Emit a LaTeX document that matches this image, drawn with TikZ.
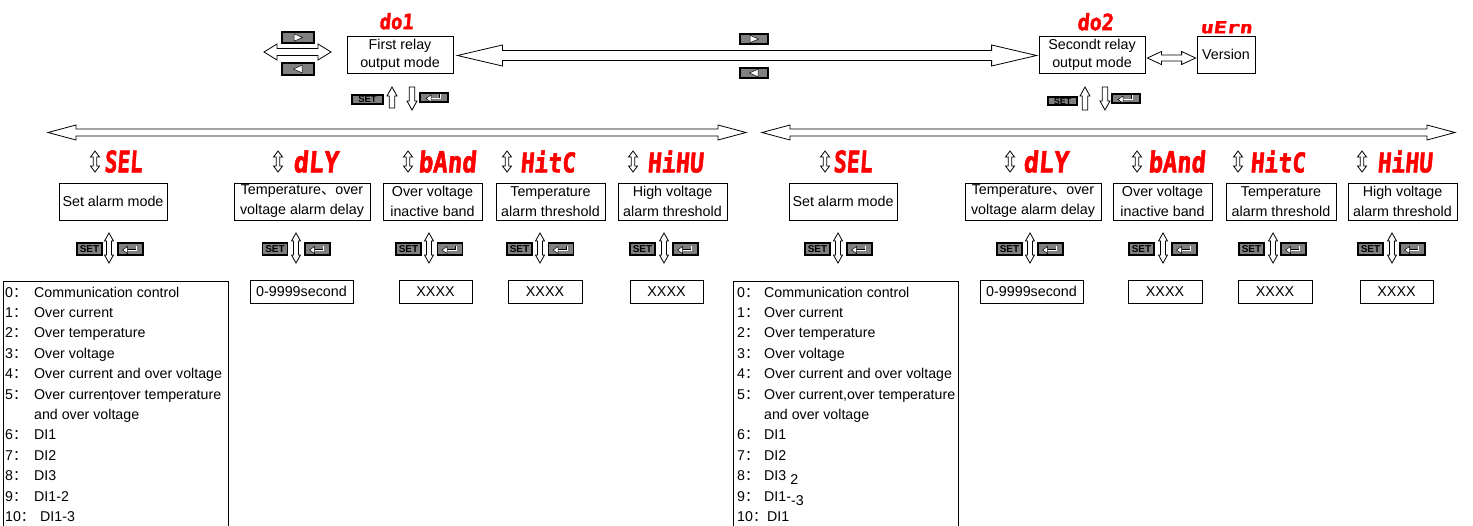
\documentclass[tikz,border=0pt]{standalone}
\usepackage{graphicx}
\usepackage{fontspec}
\setmainfont{Liberation Sans}
\newfontfamily\cjk{Noto Sans CJK SC}
\newfontfamily\segf{DejaVu Sans Mono}[FakeSlant=0.1, FakeBold=2]
\usetikzlibrary{calc}
\definecolor{btngray}{HTML}{808080}
\definecolor{segred}{HTML}{FF0000}
\tikzset{
 blk/.style={draw=black, fill=white, line width=0.8pt, line join=miter},
 txtbox/.style={draw=black, line width=0.8pt, inner sep=0pt, align=center, font=\fontsize{14.3}{20}\selectfont},
 topbox/.style={txtbox, font=\fontsize{14.3}{18}\selectfont},
 valbox/.style={draw=black, line width=0.8pt, inner sep=0pt, minimum height=23, font=\fontsize{14.3}{17}\selectfont},
 btn/.style={draw=black, fill=btngray, line width=1.1pt, inner sep=0pt},
 setbtn/.style={btn, minimum width=25, minimum height=12, font=\fontsize{10}{10}\selectfont\bfseries},
 seglab/.style={text=segred, inner sep=0pt},
 lst/.style={anchor=base west, inner sep=0pt, font=\fontsize{14.2}{17}\selectfont},
 symb/.style={draw=black, line width=0.5pt, fill=white, line join=miter},
}
% horizontal double block arrow: left tip, right tip, head length, head half width, shaft half width
\newcommand\hblk[5]{%
 \draw[blk] (#1) -- ($(#1)+(#3,-#4)$) -- ($(#1)+(#3,-#5)$) -- ($(#2)+(-#3,-#5)$) -- ($(#2)+(-#3,-#4)$) -- (#2)
   -- ($(#2)+(-#3,#4)$) -- ($(#2)+(-#3,#5)$) -- ($(#1)+(#3,#5)$) -- ($(#1)+(#3,#4)$) -- cycle;}
% vertical double block arrow: top tip, bottom tip, head length, head half width, shaft half width
\newcommand\vblk[5]{%
 \draw[blk] (#1) -- ($(#1)+(#4,#3)$) -- ($(#1)+(#5,#3)$) -- ($(#2)+(#5,-#3)$) -- ($(#2)+(#4,-#3)$) -- (#2)
   -- ($(#2)+(-#4,-#3)$) -- ($(#2)+(-#5,-#3)$) -- ($(#1)+(-#5,#3)$) -- ($(#1)+(-#4,#3)$) -- cycle;}
% up block arrow: tip (top), tail (bottom)
\newcommand\upblk[5]{%
 \draw[blk] (#1) -- ($(#1)+(#4,#3)$) -- ($(#1)+(#5,#3)$) -- ($(#2)+(#5,0)$) -- ($(#2)+(-#5,0)$)
   -- ($(#1)+(-#5,#3)$) -- ($(#1)+(-#4,#3)$) -- cycle;}
% down block arrow: tail (top), tip (bottom)
\newcommand\dnblk[5]{%
 \draw[blk] ($(#1)+(-#5,0)$) -- ($(#1)+(#5,0)$) -- ($(#2)+(#5,-#3)$) -- ($(#2)+(#4,-#3)$) -- (#2)
   -- ($(#2)+(-#4,-#3)$) -- ($(#2)+(-#5,-#3)$) -- cycle;}
% enter button: name, cx, cy, w, h
\newcommand\enterbtn[5]{%
 \node[btn, minimum width=#4, minimum height=#5] (#1) at (#2,#3) {};
 \draw[draw=black, line width=0.35pt, double=white, double distance=1pt]
   ($(#1.center)+(-3,1)$) -- ($(#1.center)+(6,1)$) -- ($(#1.center)+(6,-3.5)$);
 \draw[symb] ($(#1.center)+(-8,1)$) -- ($(#1.center)+(-3,-2.5)$) -- ($(#1.center)+(-3,4.5)$) -- cycle;}
% play button: name, cx, cy, w, h, tip dx, back dx
\newcommand\playbtn[7]{%
 \node[btn, minimum width=#4, minimum height=#5] (#1) at (#2,#3) {};
 \draw[symb] ($(#1.center)+(#6,0)$) -- ($(#1.center)+(#7,-3.8)$) -- ($(#1.center)+(#7,3.8)$) -- cycle;}
\begin{document}
\begin{tikzpicture}[x=1pt,y=-1pt]
\useasboundingbox (0,0) rectangle (1473,525);
\fill[white] (0,0) rectangle (1473,525);

% ---------- top row ----------
\playbtn{pr1}{298}{37.5}{32}{11}{4.5}{-4}
\playbtn{pl1}{298}{69}{32}{12}{-4.5}{4}
\coordinate (a1l) at (264,52);
\coordinate (a1r) at (331,52);
\hblk{a1l}{a1r}{13}{8}{3.5}

\node[seglab, anchor=north west] (do1) at (379,13) {\resizebox{34pt}{16pt}{\segf\bfseries do1}};
\node[topbox, minimum width=106, minimum height=37] (box1) at (400,54.5) {First relay\\output mode};
\node[topbox, minimum width=106, minimum height=37] (box2) at (1092,54.5) {Secondt relay\\output mode};
\node[seglab, anchor=north west] (do2) at (1077,13) {\resizebox{36pt}{17pt}{\segf\bfseries do2}};
\node[topbox, minimum width=58, minimum height=37] (ver) at (1226,54.5) {Version};
\node[seglab, anchor=north west] (uern) at (1200,21) {\resizebox{52pt}{12pt}{\segf\bfseries uErn}};

\coordinate (a2l) at ($(box1.east)+(4,1)$);
\coordinate (a2r) at ($(box2.west)+(-2,1)$);
\hblk{a2l}{a2r}{45}{10.5}{5}
\playbtn{pr2}{754}{39}{28}{10}{4.5}{-4}
\playbtn{pl2}{754}{73}{28}{10}{-4.5}{4}

\coordinate (a3l) at ($(box2.east)+(2,3.5)$);
\coordinate (a3r) at ($(ver.west)+(-1,3.5)$);
\hblk{a3l}{a3r}{14}{6.5}{3}

\node[setbtn, minimum width=31, minimum height=9, font=\fontsize{9.5}{9}\selectfont\bfseries] (tset1) at (367.5,99.5) {SET};
\coordinate (tu1a) at (392,87); \coordinate (tu1b) at (392,108);
\upblk{tu1a}{tu1b}{9}{5}{2.8}
\coordinate (td1a) at (412,87); \coordinate (td1b) at (412,110);
\dnblk{td1a}{td1b}{9}{5}{2.8}
\enterbtn{tent1}{434}{97.5}{28}{9}

\node[setbtn, minimum width=29, minimum height=8, font=\fontsize{9}{9}\selectfont\bfseries] (tset2) at (1062.5,101) {SET};
\coordinate (tu2a) at (1085,87); \coordinate (tu2b) at (1085,110);
\upblk{tu2a}{tu2b}{9}{5}{2.8}
\coordinate (td2a) at (1105,87); \coordinate (td2b) at (1105,110);
\dnblk{td2a}{td2b}{9}{5}{2.8}
\enterbtn{tent2}{1126}{98.5}{28}{9}

% ---------- long menu arrows ----------
\coordinate (m1l) at (48,132.5); \coordinate (m1r) at (746,132.5);
\hblk{m1l}{m1r}{28}{7.5}{3.5}
\coordinate (m2l) at (762,132.5); \coordinate (m2r) at (1455,132.5);
\hblk{m2l}{m2r}{28}{7.5}{3.5}

% ---------- parameter labels ----------
\foreach \n/\ax/\lx/\lw/\lt in {1/95/104/38/SEL, 2/278/293/45/dLY, 3/408/418/58/bAnd, 4/507/520/55/HitC, 5/633/647/56/HiHU,
  6/825/833/39/SEL, 7/1010/1023/45/dLY, 8/1137/1148/57/bAnd, 9/1238/1250/55/HitC, 10/1362/1377/55/HiHU}{
  \coordinate (ua\n) at (\ax,151);
  \coordinate (ub\n) at (\ax,172);
  \vblk{ua\n}{ub\n}{6}{4.5}{1.8}
  \node[seglab, anchor=west] (lab\n) at (\lx,161.5) {\resizebox{\lw pt}{22pt}{\segf\bfseries\lt}};
}

% ---------- parameter boxes ----------
\foreach \n/\bx/\bw/\bt in {1/113/108/{Set alarm mode},
  2/302/136/{Temperature{\cjk 、}over\\voltage alarm delay},
  3/432.5/99/{Over voltage\\inactive band},
  4/550.5/109/{Temperature\\alarm threshold},
  5/672.5/109/{High voltage\\alarm threshold},
  6/843/108/{Set alarm mode},
  7/1033/136/{Temperature{\cjk 、}over\\voltage alarm delay},
  8/1162.5/99/{Over voltage\\inactive band},
  9/1281/110/{Temperature\\alarm threshold},
  10/1402.5/109/{High voltage\\alarm threshold}}{
  \node[txtbox, minimum width=\bw, minimum height=37] (bx\n) at (\bx,201.5) {\bt};
}

% ---------- SET / arrows / enter ----------
\foreach \n/\sx/\ux/\ex in {1/89.5/109/130.5, 2/275/296/317.5, 3/408.5/429/450, 4/519.5/540/561, 5/642.5/664/685.5,
  6/817.5/838/859.5, 7/1009.5/1030/1050.5, 8/1141.5/1163/1184.5, 9/1251.5/1273/1293.5, 10/1370.5/1392/1412.5}{
  \node[setbtn] (set\n) at (\sx,249) {SET};
  \coordinate (da\n) at (\ux,233);
  \coordinate (db\n) at (\ux,263);
  \vblk{da\n}{db\n}{8}{4.5}{2.5}
  \enterbtn{ent\n}{\ex}{249}{25}{12}
}

% ---------- value boxes ----------
\foreach \n/\vx/\vw/\vt in {2/301.5/103/0-9999second, 3/435.5/73/XXXX, 4/545/74/XXXX, 5/666.5/73/XXXX,
  7/1031.5/103/0-9999second, 8/1165/74/XXXX, 9/1275/74/XXXX, 10/1396.5/73/XXXX}{
  \node[valbox, minimum width=\vw] (val\n) at (\vx,291.5) {\vt};
}

% ---------- option lists ----------
\node[draw=black, line width=0.8pt, minimum width=225, minimum height=320, anchor=north west, inner sep=0pt] (list1) at (3,280.5) {};
\node[draw=black, line width=0.8pt, minimum width=225, minimum height=320, anchor=north west, inner sep=0pt] (list2) at (733,280.5) {};

\foreach \k/\num/\txt in {0/0/{Communication control}, 1/1/{Over current}, 2/2/{Over temperature}, 3/3/{Over voltage},
  4/4/{Over current and over voltage}, 5/5/{Over curren\rlap{,}tover temperature}, 7/6/DI1, 8/7/DI2, 9/8/DI3, 10/9/DI1-2}{
  \node[lst] (la\k) at (5,297+20.4*\k) {\num{\cjk ：}};
  \node[lst] (lb\k) at (34,297+20.4*\k) {\txt};
}
\node[lst] (lb6) at (34,297+20.4*6) {and over voltage};
\node[lst] (la11) at (5,297+20.4*11) {10{\cjk ：}};
\node[lst] (lb11) at (40,297+20.4*11) {DI1-3};

\foreach \k/\num/\txt in {0/0/{Communication control}, 1/1/{Over current}, 2/2/{Over temperature}, 3/3/{Over voltage},
  4/4/{Over current and over voltage}, 5/5/{Over current,over temperature}, 7/6/DI1, 8/7/DI2,
  9/8/{DI3 \raisebox{-4pt}{2}}, 10/9/{DI1-\raisebox{-4pt}{-3}}}{
  \node[lst] (ra\k) at (737,297+20.4*\k) {\num{\cjk ：}};
  \node[lst] (rb\k) at (764,297+20.4*\k) {\txt};
}
\node[lst] (rb6) at (764,297+20.4*6) {and over voltage};
\node[lst] (ra11) at (737,297+20.4*11) {10{\cjk ：}};
\node[lst] (rb11) at (767,297+20.4*11) {DI1};
\end{tikzpicture}
\end{document}
